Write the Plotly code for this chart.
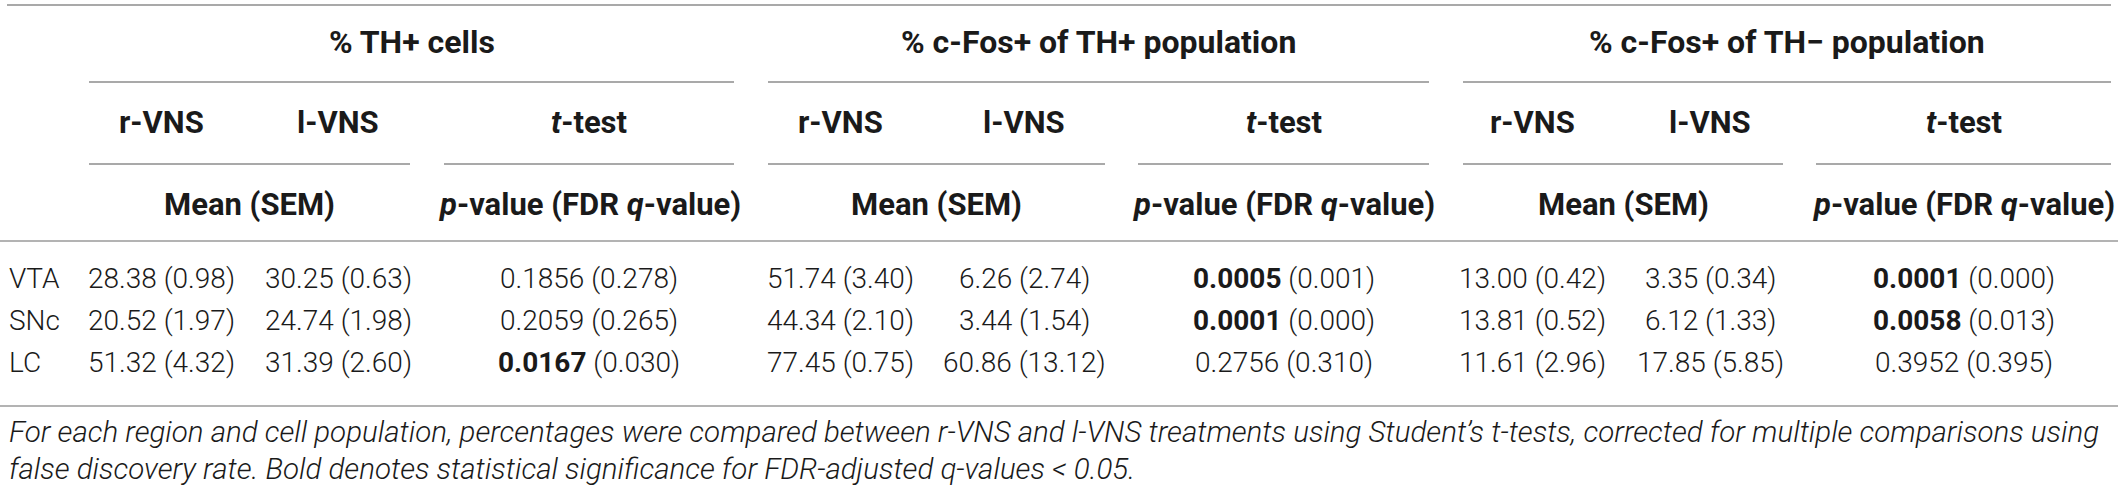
import plotly.graph_objects as go

# table content
groups = ["% TH+ cells", "% c-Fos+ of TH+ population", "% c-Fos+ of TH\u2212 population"]
sub_cols = ["r-VNS", "l-VNS", "<i>t</i>-test"]
stat_labels = ["Mean (SEM)", "<i>p</i>-value (FDR <i>q</i>-value)"]
regions = ["VTA", "SNc", "LC"]

# per group: rows = regions
r_mean = [[28.38, 20.52, 51.32], [51.74, 44.34, 77.45], [13.00, 13.81, 11.61]]
r_sem = [[0.98, 1.97, 4.32], [3.40, 2.10, 0.75], [0.42, 0.52, 2.96]]
l_mean = [[30.25, 24.74, 31.39], [6.26, 3.44, 60.86], [3.35, 6.12, 17.85]]
l_sem = [[0.63, 1.98, 2.60], [2.74, 1.54, 13.12], [0.34, 1.33, 5.85]]
p_val = [["0.1856", "0.2059", "0.0167"], ["0.0005", "0.0001", "0.2756"], ["0.0001", "0.0058", "0.3952"]]
q_val = [["0.278", "0.265", "0.030"], ["0.001", "0.000", "0.310"], ["0.000", "0.013", "0.395"]]
q_cut = 0.05

footnote = [
    "For each region and cell population, percentages were compared between r-VNS and l-VNS treatments using "
    "Student\u2019s t-tests, corrected for multiple comparisons using",
    "false discovery rate. Bold denotes statistical significance for FDR-adjusted q-values < 0.05.",
]

# layout in pixels (page is 2118 x 492)
W, H = 2118, 492
group_span = [(89, 734), (768, 1429), (1463, 2111)]
mean_span = [(89, 410), (768, 1105), (1463, 1783)]
test_span = [(444, 734), (1138, 1429), (1816, 2111)]
col_x = [(161, 338), (840, 1024), (1532, 1710)]
y_group, y_sub, y_stat = 42, 122, 204
y_rows = [278, 320, 362]
y_foot = [432, 469]

GROUP = dict(family="Roboto, Arial", size=32, color="#1a1a1a", weight=700)
HEAD = dict(family="Roboto, Arial", size=31, color="#1a1a1a", weight=700)
BODY = dict(family="Roboto, Arial", size=28, color="#1a1a1a", weight=300)
FOOT = dict(family="Roboto, Arial", size=29.5, color="#1a1a1a", weight=300, style="italic")

fig = go.Figure()
ann = []
shapes = []


def hline(x0, x1, y, color="#8c8c8c", w=1.6):
    shapes.append(dict(type="line", xref="x", yref="y", x0=x0, x1=x1, y0=y, y1=y,
                       line=dict(color=color, width=w)))


def text(x, y, s, font, anchor="center"):
    ann.append(dict(x=x, y=y, xref="x", yref="y", text=s, showarrow=False,
                    xanchor=anchor, yanchor="middle", font=font))


hline(7, 2111, 5)
hline(0, W, 241, color="#b3b3b3", w=2.2)
hline(0, W, 406, color="#b3b3b3", w=2.2)

for g in range(3):
    gx0, gx1 = group_span[g]
    mx0, mx1 = mean_span[g]
    tx0, tx1 = test_span[g]
    rx, lx = col_x[g]
    tx = (tx0 + tx1) / 2
    text((gx0 + gx1) / 2, y_group, "<b>%s</b>" % groups[g], GROUP)
    hline(gx0, gx1, 82)
    text(rx, y_sub, "<b>%s</b>" % sub_cols[0], HEAD)
    text(lx, y_sub, "<b>%s</b>" % sub_cols[1], HEAD)
    text(tx, y_sub, "<b>%s</b>" % sub_cols[2], HEAD)
    hline(mx0, mx1, 164)
    hline(tx0, tx1, 164)
    text((mx0 + mx1) / 2, y_stat, "<b>%s</b>" % stat_labels[0], HEAD)
    text(tx, y_stat, "<b>%s</b>" % stat_labels[1], HEAD)
    for i in range(3):
        y = y_rows[i]
        text(rx, y, "%.2f (%.2f)" % (r_mean[g][i], r_sem[g][i]), BODY)
        text(lx, y, "%.2f (%.2f)" % (l_mean[g][i], l_sem[g][i]), BODY)
        p = p_val[g][i]
        if float(q_val[g][i]) < q_cut:
            p = "<b>%s</b>" % p
        text(tx, y, "%s (%s)" % (p, q_val[g][i]), BODY)

for i, r in enumerate(regions):
    text(7, y_rows[i], r, BODY, anchor="left")

for i, line in enumerate(footnote):
    text(7, y_foot[i], line.replace("<", "&lt;"), FOOT, anchor="left")

fig.update_layout(
    width=W, height=H,
    margin=dict(l=0, r=0, t=0, b=0),
    paper_bgcolor="white", plot_bgcolor="white",
    xaxis=dict(range=[0, W], visible=False, fixedrange=True),
    yaxis=dict(range=[H, 0], visible=False, fixedrange=True),
    annotations=ann, shapes=shapes, showlegend=False,
)
# page body margin would shift the table 8px, drop it
fig.write_html("out.html", config={"displayModeBar": False},
               post_script="document.body.style.margin='0';")
